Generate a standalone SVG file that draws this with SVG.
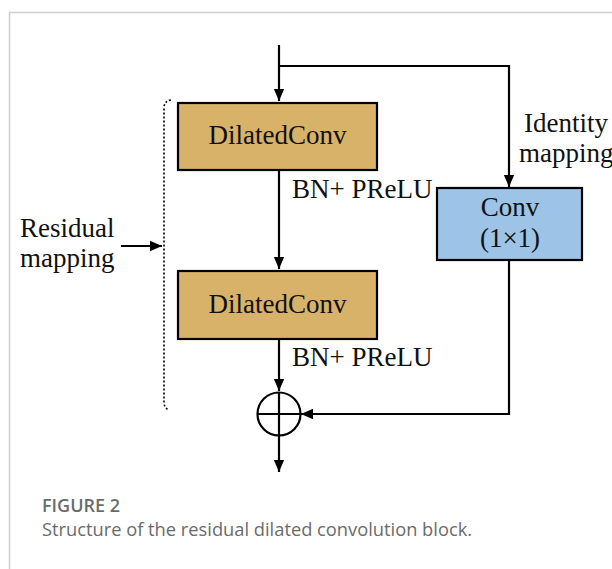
<svg xmlns="http://www.w3.org/2000/svg" width="612" height="569" viewBox="0 0 612 569">
<style>
.t{font-family:"Liberation Serif","Times New Roman",serif;font-size:27px;fill:#111}
.line{stroke:#000;stroke-width:2.2;fill:none}
.box{stroke:#000;stroke-width:2.2}
.cap{font-family:"Open Sans","Noto Sans",sans-serif;fill:#6b6b6b}
</style>
<defs>
<marker id="ah" markerWidth="12" markerHeight="16" refX="14" refY="6" viewBox="0 0 14 12" markerUnits="userSpaceOnUse" orient="auto">
<path d="M0,0 L14,6 L0,12 Z" fill="#000"/>
</marker>
</defs>
<rect x="0" y="0" width="612" height="569" fill="#fff"/>
<path d="M9.5,569 L9.5,12.5 L612,12.5" fill="none" stroke="#cfcfcf" stroke-width="1.5"/>
<g id="connectors">
<path class="line" d="M279,45 L279,101" marker-end="url(#ah)"/>
<path class="line" d="M279,66 L509,66 L509,187" marker-end="url(#ah)"/>
<path class="line" d="M279,170 L279,269" marker-end="url(#ah)"/>
<path class="line" d="M279,339 L279,391" marker-end="url(#ah)"/>
<path class="line" d="M509,260 L509,414 L301,414" marker-end="url(#ah)"/>
<path class="line" d="M279,436 L279,472" marker-end="url(#ah)"/>
<path class="line" d="M121,246 L162,246" marker-end="url(#ah)" stroke-width="1.6"/>
<path d="M171,100 Q164,101 164,108 L164,402 Q164,408 169,410" fill="none" stroke="#000" stroke-width="1.6" stroke-dasharray="2,2"/>
</g>
<g id="dconv1">
<rect class="box" x="178" y="103" width="199" height="67" fill="#D9B26A"/>
<text class="t" x="277.5" y="144" text-anchor="middle">DilatedConv</text>
</g>
<g id="dconv2">
<rect class="box" x="178" y="271" width="199" height="68" fill="#D9B26A"/>
<text class="t" x="277.5" y="313" text-anchor="middle">DilatedConv</text>
</g>
<g id="conv">
<rect class="box" x="437" y="188" width="145" height="72" fill="#9DC3E6"/>
<text class="t" x="510" y="216" text-anchor="middle">Conv</text>
<text class="t" x="510" y="247" text-anchor="middle">(1×1)</text>
</g>
<g id="add">
<circle cx="279" cy="414" r="21.5" fill="#fff" stroke="#000" stroke-width="2.2"/>
<path d="M258,414 L300,414 M279,393 L279,435" stroke="#000" stroke-width="2.2"/>
</g>
<g id="labels">
<text class="t" x="292" y="198">BN+ PReLU</text>
<text class="t" x="292" y="366">BN+ PReLU</text>
<text class="t" x="524" y="132">Identity</text>
<text class="t" x="519" y="162">mapping</text>
<text class="t" x="20" y="237">Residual</text>
<text class="t" x="20" y="267">mapping</text>
</g>
<g id="caption">
<text class="cap" x="42" y="512" font-size="18" font-weight="600">FIGURE 2</text>
<text class="cap" x="42" y="536" font-size="18.3">Structure of the residual dilated convolution block.</text>
</g>
</svg>
